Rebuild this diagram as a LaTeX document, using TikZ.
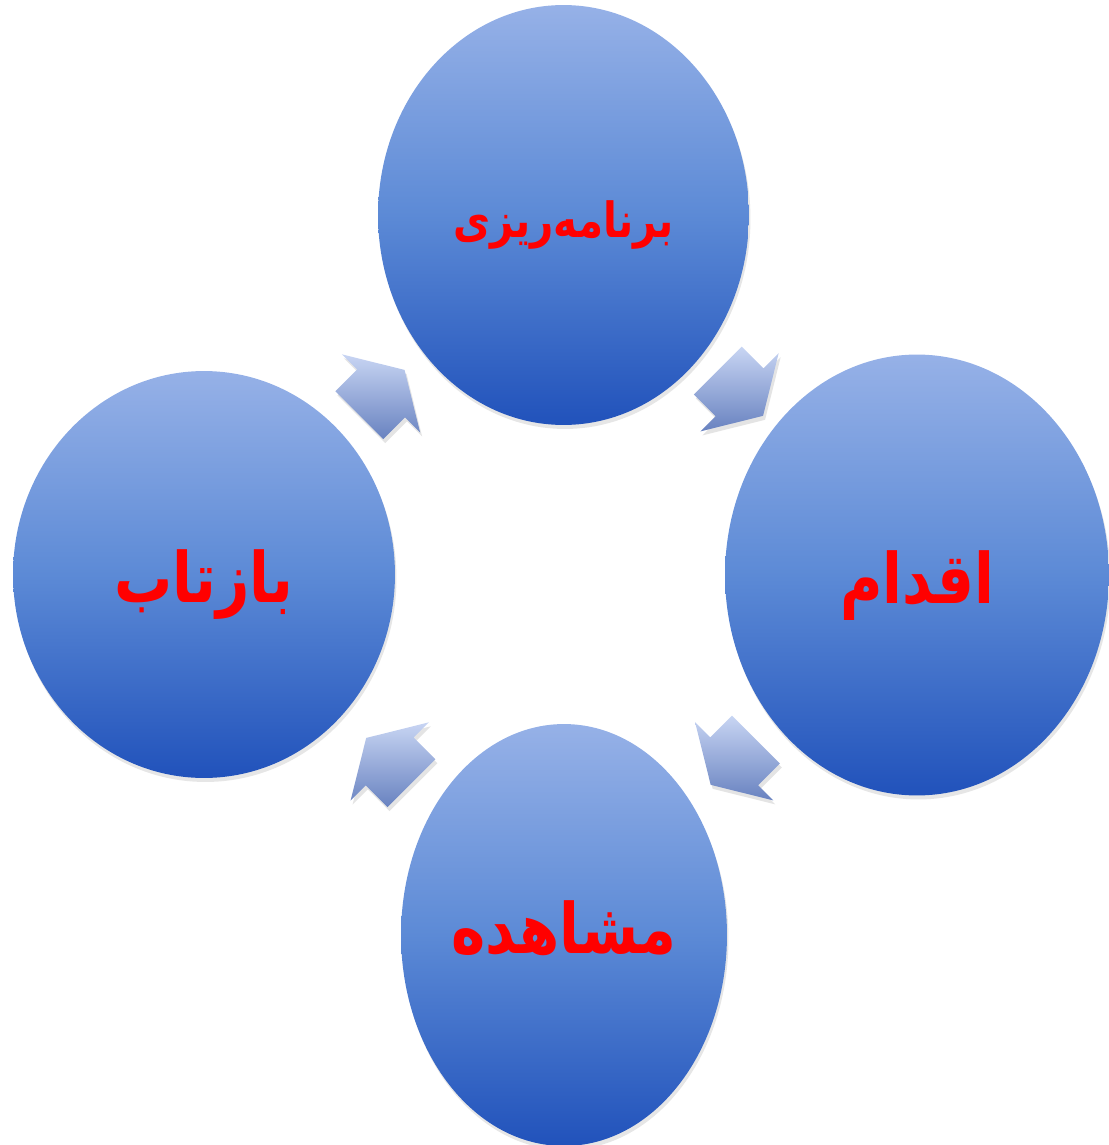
\documentclass[tikz,border=0pt]{standalone}
\usepackage{fontspec}
\usetikzlibrary{shapes.geometric,shapes.arrows,shadows,calc}
\TeXXeTstate=1
\newfontfamily\farsi[Script=Arabic]{DejaVu Sans}
\newcommand{\tallword}[1]{\scalebox{1}[1.2]{\beginR #1\endR}}
\definecolor{cyctop}{RGB}{150,177,231}
\definecolor{cycmid}{RGB}{92,138,214}
\definecolor{cycbot}{RGB}{33,82,187}
\definecolor{arrtop}{RGB}{200,213,243}
\definecolor{arrbot}{RGB}{104,130,192}
\definecolor{lblred}{RGB}{255,0,0}

\tikzset{
  stage/.style={ellipse,inner sep=0pt,text depth=6pt,
    top color=cyctop,bottom color=cycbot,middle color=cycmid,
    drop shadow={shadow xshift=0.3mm,shadow yshift=-0.8mm,opacity=0.14,fill=black!70},
    text=lblred,font=\farsi\bfseries\fontsize{33}{36}\selectfont},
  flowarrow/.style={single arrow,inner xsep=0pt,inner ysep=6.7mm,
    single arrow head extend=4.3mm,single arrow tip angle=118,
    minimum height=12.8mm,top color=arrtop,bottom color=arrbot,
    drop shadow={shadow xshift=0.4mm,shadow yshift=-0.8mm,opacity=0.15,fill=black!70}},
}

\begin{document}
\begin{tikzpicture}[x=0.02cm,y=-0.02cm]

  \useasboundingbox (0,0) rectangle (1108,1145);

  % ---------------------------------------------------------------
  % the four stages of the cycle
  % ---------------------------------------------------------------
  \node[stage,minimum width=7.42cm,minimum height=8.4cm,text height=32pt,
        font=\farsi\bfseries\fontsize{23}{26}\selectfont] (plan) at (563.5,215)
        {\tallword{برنامه‌ریزی}};
  \node[stage,minimum width=7.68cm,minimum height=8.82cm,text height=38pt] (act) at (917,575)
        {\tallword{اقدام}};
  \node[stage,minimum width=6.52cm,minimum height=8.44cm,text height=27pt] (obs) at (564,935)
        {\tallword{مشاهده}};
  \node[stage,minimum width=7.64cm,minimum height=8.14cm,text height=38pt] (refl) at (204,574.5)
        {\tallword{بازتاب}};

  % ---------------------------------------------------------------
  % block arrows between the stages (clockwise)
  % ---------------------------------------------------------------
  \node[flowarrow,rotate=45]   (a1) at ($(refl)!0.5!(plan)+(-9,5)$)  {};
  \node[flowarrow,rotate=-45]  (a2) at ($(plan)!0.5!(act)+(-7,-9)$)  {};
  \node[flowarrow,rotate=-135] (a3) at ($(act)!0.5!(obs)$)           {};
  \node[flowarrow,rotate=135]  (a4) at ($(obs)!0.5!(refl)+(12,13)$)  {};

\end{tikzpicture}
\end{document}
